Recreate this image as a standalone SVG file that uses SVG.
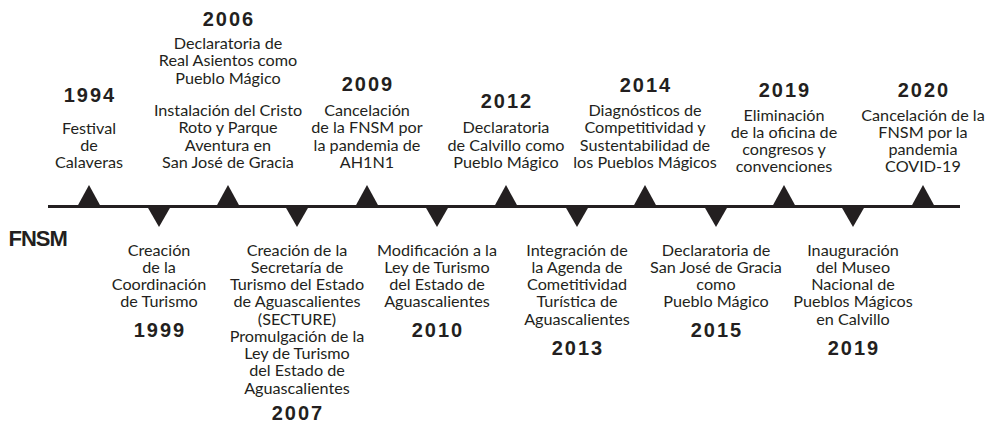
<svg xmlns="http://www.w3.org/2000/svg" width="994" height="427" viewBox="0 0 994 427">
<style>
.d{font-family:Lato,"Open Sans","Noto Sans",sans-serif;font-size:16.2px;fill:#231f20;text-anchor:middle}
.y{font-family:"Liberation Sans",Arial,sans-serif;font-weight:bold;font-size:20px;letter-spacing:2px;fill:#231f20;text-anchor:middle}
.f{font-family:"Liberation Sans",Arial,sans-serif;font-weight:bold;font-size:22px;letter-spacing:-1px;fill:#231f20}
.t{fill:#231f20}
</style>
<rect width="994" height="427" fill="#fff"/>
<g id="connectors">
<line x1="48" y1="206.5" x2="960" y2="206.5" stroke="#231f20" stroke-width="3"/>
</g>
<text class="f" x="8.5" y="246">FNSM</text>
<g id="e1994"><polygon class="t" points="89,185 77.5,206 100.5,206"/><text class="y" x="90" y="102">1994</text><text class="d" x="89"><tspan x="89" y="134">Festival</tspan><tspan x="89" y="151.2">de</tspan><tspan x="89" y="168.4">Calaveras</tspan></text></g>
<g id="e2006"><polygon class="t" points="228,185 216.5,206 239.5,206"/><text class="y" x="229" y="26">2006</text><text class="d"><tspan x="228" y="49">Declaratoria de</tspan><tspan x="228" y="66.3">Real Asientos como</tspan><tspan x="228" y="83.6">Pueblo Mágico</tspan><tspan x="228" y="116">Instalación del Cristo</tspan><tspan x="228" y="133.3">Roto y Parque</tspan><tspan x="228" y="150.6">Aventura en</tspan><tspan x="228" y="167.9">San José de Gracia</tspan></text></g>
<g id="e2009"><polygon class="t" points="367,185 355.5,206 378.5,206"/><text class="y" x="368" y="91">2009</text><text class="d"><tspan x="367" y="116">Cancelación</tspan><tspan x="367" y="133.3">de la FNSM por</tspan><tspan x="367" y="150.6">la pandemia de</tspan><tspan x="367" y="167.9">AH1N1</tspan></text></g>
<g id="e2012"><polygon class="t" points="506,185 494.5,206 517.5,206"/><text class="y" x="507" y="108">2012</text><text class="d"><tspan x="506" y="133.3">Declaratoria</tspan><tspan x="506" y="150.6">de Calvillo como</tspan><tspan x="506" y="167.9">Pueblo Mágico</tspan></text></g>
<g id="e2014"><polygon class="t" points="645,185 633.5,206 656.5,206"/><text class="y" x="646" y="92">2014</text><text class="d"><tspan x="645" y="116">Diagnósticos de</tspan><tspan x="645" y="133.3">Competitividad y</tspan><tspan x="645" y="150.6">Sustentabilidad de</tspan><tspan x="645" y="167.9">los Pueblos Mágicos</tspan></text></g>
<g id="e2019a"><polygon class="t" points="784,185 772.5,206 795.5,206"/><text class="y" x="785" y="96.5">2019</text><text class="d"><tspan x="784" y="120.5">Eliminación</tspan><tspan x="784" y="137.8">de la oficina de</tspan><tspan x="784" y="155.1">congresos y</tspan><tspan x="784" y="172.4">convenciones</tspan></text></g>
<g id="e2020"><polygon class="t" points="923,185 911.5,206 934.5,206"/><text class="y" x="924" y="96.5">2020</text><text class="d"><tspan x="923" y="120.5">Cancelación de la</tspan><tspan x="923" y="137.8">FNSM por la</tspan><tspan x="923" y="155.1">pandemia</tspan><tspan x="923" y="172.4">COVID-19</tspan></text></g>
<g id="e1999"><polygon class="t" points="147.5,207 170.5,207 159,227"/><text class="d"><tspan x="159" y="255.5">Creación</tspan><tspan x="159" y="272.8">de la</tspan><tspan x="159" y="290.1">Coordinación</tspan><tspan x="159" y="307.4">de Turismo</tspan></text><text class="y" x="160" y="337">1999</text></g>
<g id="e2007"><polygon class="t" points="285.5,207 308.5,207 297,227"/><text class="d"><tspan x="297" y="255.5">Creación de la</tspan><tspan x="297" y="272.75">Secretaría de</tspan><tspan x="297" y="290">Turismo del Estado</tspan><tspan x="297" y="307.25">de Aguascalientes</tspan><tspan x="297" y="324.5">(SECTURE)</tspan><tspan x="297" y="341.75">Promulgación de la</tspan><tspan x="297" y="359">Ley de Turismo</tspan><tspan x="297" y="376.25">del Estado de</tspan><tspan x="297" y="393.5">Aguascalientes</tspan></text><text class="y" x="298" y="420">2007</text></g>
<g id="e2010"><polygon class="t" points="425.5,207 448.5,207 437,227"/><text class="d"><tspan x="437" y="255.5">Modificación a la</tspan><tspan x="437" y="272.8">Ley de Turismo</tspan><tspan x="437" y="290.1">del Estado de</tspan><tspan x="437" y="307.4">Aguascalientes</tspan></text><text class="y" x="438" y="337">2010</text></g>
<g id="e2013"><polygon class="t" points="565.5,207 588.5,207 577,227"/><text class="d"><tspan x="577" y="255.5">Integración de</tspan><tspan x="577" y="272.8">la Agenda de</tspan><tspan x="577" y="290.1">Cometitividad</tspan><tspan x="577" y="307.4">Turística de</tspan><tspan x="577" y="324.7">Aguascalientes</tspan></text><text class="y" x="578" y="355">2013</text></g>
<g id="e2015"><polygon class="t" points="704.5,207 727.5,207 716,227"/><text class="d"><tspan x="716" y="255.5">Declaratoria de</tspan><tspan x="716" y="272.8">San José de Gracia</tspan><tspan x="716" y="290.1">como</tspan><tspan x="716" y="307.4">Pueblo Mágico</tspan></text><text class="y" x="717" y="336.7">2015</text></g>
<g id="e2019b"><polygon class="t" points="841.5,207 864.5,207 853,227"/><text class="d"><tspan x="853" y="255.5">Inauguración</tspan><tspan x="853" y="272.8">del Museo</tspan><tspan x="853" y="290.1">Nacional de</tspan><tspan x="853" y="307.4">Pueblos Mágicos</tspan><tspan x="853" y="324.7">en Calvillo</tspan></text><text class="y" x="854" y="355">2019</text></g>
</svg>
